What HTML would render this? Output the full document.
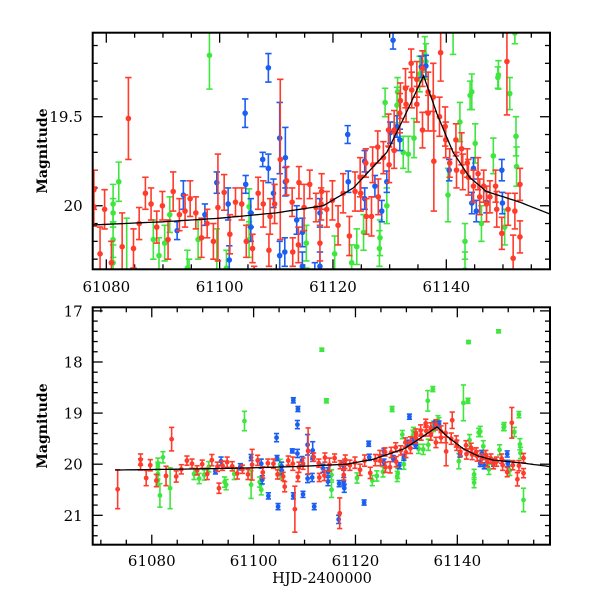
<!DOCTYPE html>
<html><head><meta charset="utf-8"><style>
html,body{margin:0;padding:0;background:#fff}
svg{display:block}
text{font-family:"DejaVu Serif","Liberation Serif",serif;fill:#000}
</style></head><body>
<svg id="chart" width="600" height="600" viewBox="0 0 600 600">
<defs>
<clipPath id="clipTop"><rect x="92.7" y="32.7" width="457.3" height="236.6"/></clipPath>
<clipPath id="clipBot"><rect x="92.7" y="307.3" width="457.3" height="237.4"/></clipPath>
</defs>
</svg>
<script>
const redPts=[[61073.3,20.49,.38],[61077.8,19.91,.11],[61077.8,20.005,.11],[61078.9,20.27,.15],[61079.7,20.02,.11],[61080.9,20.32,.12],[61082.8,20.23,.19],[61083.9,19.51,.23],[61084.8,20.24,.11],[61085.8,20.10,.09],[61086.9,19.93,.09],[61087.9,19.99,.09],[61088.9,20.12,.09],[61089.9,20.00,.08],[61090.9,20.19,.11],[61091.8,19.92,.11],[61092.9,20.05,.09],[61093.2,20.47,.1],[61093.9,20.03,.09],[61094.8,19.96,.10],[61095.8,20.04,.09],[61096.8,20.18,.11],[61097.8,20.10,.08],[61098.9,20.20,.10],[61099.7,20.01,.30],[61100.8,19.925,.10],[61101.8,20.16,.11],[61102.8,19.98,.08],[61103.9,19.99,.09],[61104.7,20.20,.09],[61105.8,20.24,.08],[61106.1,20.44,.1],[61106.8,19.93,.09],[61107.7,19.99,.13],[61108.1,20.88,.45],[61108.7,20.25,.09],[61108.9,20.06,.1],[61109.7,19.99,.11],[61110.7,19.74,.45],[61111.8,19.86,.08],[61112.8,19.98,.08],[61112.9,20.26,.08],[61113.9,20.22,.1],[61114.0,19.87,.09],[61114.9,20.01,.13],[61115.9,19.88,.08],[61116.9,20.96,.3],[61117.0,20.01,.08],[61117.7,20.21,.1],[61117.9,19.99,.09],[61118.0,19.92,.1],[61118.9,20.02,.1],[61119.9,19.97,.11],[61120.9,20.11,.11],[61121.8,19.93,.11],[61122.9,20.17,.11],[61123.9,19.92,.11],[61124.8,19.84,.11],[61124.9,19.93,.1],[61125.8,19.76,.08],[61125.9,20.06,.1],[61126.8,20.06,.11],[61127.0,19.77,.1],[61127.9,19.67,.09],[61128.0,19.95,.1],[61128.9,19.73,.09],[61129.8,19.575,.09],[61129.9,19.77,.1],[61130.8,19.575,.11],[61130.8,19.69,.1],[61131.8,19.48,.11],[61131.9,19.41,.1],[61132.8,19.34,.11],[61132.9,19.43,.1],[61133.8,19.20,.08],[61133.9,19.35,.1],[61134.8,19.43,.1],[61134.8,19.29,.1],[61135.8,19.23,.1],[61135.8,19.575,.1],[61136.8,19.36,.11],[61136.8,19.48,.1],[61137.7,19.39,.19],[61137.8,19.75,.28],[61138.8,19.50,.11],[61139.0,19.14,.16],[61139.8,19.555,.11],[61139.9,19.63,.1],[61140.6,19.76,.08],[61141.7,19.63,.09],[61141.8,19.80,.1],[61142.7,19.68,.09],[61142.9,19.81,.1],[61143.7,19.76,.08],[61143.9,19.84,.1],[61144.8,19.89,.09],[61145.6,19.82,.09],[61145.9,19.95,.1],[61146.6,19.89,.09],[61147.1,19.99,.1],[61147.7,19.95,.09],[61148.7,19.89,.09],[61148.9,20.02,.1],[61149.8,20.155,.09],[61150.7,19.19,.3],[61150.9,20.02,.09],[61151.8,20.295,.13],[61152.1,20.03,.1],[61153.0,19.88,.09],[61153.0,20.175,.09]];
const greenPts=[[61081.2,19.99,.11],[61081.2,20.04,.08],[61081.2,20.19,.1],[61081.2,20.32,.1],[61081.6,20.61,.23],[61082.2,19.865,.11],[61083.6,20.47,.4],[61088.3,20.19,.11],[61089.3,20.28,.1],[61090.3,20.21,.1],[61091.2,20.05,.1],[61094.3,20.35,.1],[61094.6,20.40,.1],[61096.2,20.19,.11],[61098.2,19.155,.19],[61099.5,20.40,.27],[61101.2,20.35,.1],[61101.5,20.50,.1],[61105.2,20.19,.1],[61105.2,20.005,.1],[61113.4,17.76,.03],[61114.3,18.76,.04],[61115.3,20.21,.1],[61115.3,20.50,.15],[61120.3,20.27,.1],[61123.3,20.32,.1],[61124.2,20.23,.1],[61125.4,20.15,.1],[61127.2,18.92,.05],[61128.2,20.24,.1],[61128.3,20.18,.1],[61129.2,19.42,.08],[61129.5,20.0,.1],[61131.3,19.435,.1],[61131.4,19.36,.08],[61132.4,19.70,.09],[61133.3,19.71,.1],[61134.2,18.76,.2],[61134.3,19.62,.11],[61135.2,18.53,.05],[61135.3,19.26,.1],[61136.2,19.15,.1],[61136.4,19.19,.1],[61140.3,19.94,.15],[61141.2,18.80,.35],[61142.1,18.76,.05],[61142.2,17.61,.03],[61142.4,19.53,.11],[61143.3,20.20,.1],[61143.3,20.36,.1],[61144.2,19.38,.08],[61144.5,19.36,.1],[61145.1,19.65,.11],[61146.2,20.10,.1],[61148.1,17.40,.03],[61148.3,19.72,.1],[61149.1,19.28,.06],[61149.2,19.265,.08],[61150.3,20.12,.1],[61151.2,19.37,.09],[61152.1,19.03,.06],[61152.3,19.61,.11],[61152.4,19.78,.11],[61153.0,20.70,.23]];
const bluePts=[[61092.5,20.14,.05],[61093.6,19.94,.08],[61097.4,20.05,.06],[61099.5,19.87,.06],[61101.5,19.99,.09],[61101.7,20.305,.08],[61102.9,20.62,.06],[61104.5,19.48,.08],[61104.6,19.88,.05],[61104.8,20.83,.06],[61105.5,20.04,.08],[61105.5,20.12,.08],[61107.6,19.74,.04],[61107.8,18.75,.05],[61107.8,20.62,.06],[61108.6,19.225,.08],[61108.6,19.79,.08],[61108.7,18.92,.05],[61109.5,19.93,.08],[61109.7,20.59,.06],[61110.6,19.62,.2],[61110.6,20.28,.08],[61111.5,20.26,.08],[61111.6,19.73,.17],[61111.6,19.865,.08],[61111.9,20.83,.06],[61113.6,20.08,.08],[61114.6,20.15,.08],[61114.6,20.34,.08],[61116.7,21.08,.08],[61116.8,20.38,.06],[61117.7,20.04,.08],[61117.7,20.34,.08],[61117.8,20.47,.08],[61121.7,20.75,.05],[61122.6,19.60,.05],[61122.7,19.865,.06],[61125.6,19.75,.06],[61125.6,19.96,.06],[61127.4,19.89,.06],[61128.6,20.03,.06],[61129.5,19.865,.06],[61130.1,19.59,.06],[61130.6,19.07,.05],[61131.3,19.555,.06],[61131.8,19.63,.06],[61135.6,19.22,.06],[61136.4,19.215,.06],[61140.5,19.80,.06],[61144.5,19.985,.06],[61144.8,19.79,.06],[61145.3,20.03,.06],[61147.1,19.98,.06],[61149.8,19.80,.06],[61149.9,19.985,.06]];
const modelDays=[61068,61077.6,61090,61100,61110,61118.3,61123.6,61129.5,61132.3,61136,61138.3,61141.2,61144.1,61147.1,61153,61158.3];
const modelMags=[20.12,20.108,20.09,20.07,20.04,20.0,19.90,19.70,19.52,19.27,19.48,19.70,19.84,19.92,19.98,20.047];
const topYTicks=["19.5","20"];
const botYTicks=["17","18","19","20","21"];
const xTickLabels=["61080","61100","61120","61140"];

const NS="http://www.w3.org/2000/svg";
const svg=document.getElementById('chart');
function mk(tag,attrs,parent){const e=document.createElementNS(NS,tag);for(const k in attrs)e.setAttribute(k,attrs[k]);(parent||svg).appendChild(e);return e;}

const panels=[
 {name:'top',x0:92.7,x1:550,y0:32.7,y1:269.3,d0:61077.6,d1:61158.3,m0:19.028,m1:20.357,yMaj:0.5,yMin:0.1,yLabels:topYTicks,clip:'clipTop',r:2.8,cap:3.2,modelStart:61077.6,labY:292,ylabY:151},
 {name:'bottom',x0:92.7,x1:550,y0:307.3,y1:544.7,d0:61068.4,d1:61158.2,m0:16.93,m1:21.575,yMaj:1,yMin:0.2,yLabels:botYTicks,clip:'clipBot',r:2.4,cap:2.6,modelStart:61072.4,labY:566,ylabY:426}
];
const colors={green:'#3ee63e',blue:'#1a5ff2',red:'#ff3b2b'};

panels.forEach(p=>{
 const X=d=>p.x0+(d-p.d0)/(p.d1-p.d0)*(p.x1-p.x0);
 const Y=m=>p.y0+(m-p.m0)/(p.m1-p.m0)*(p.y1-p.y0);
 const g=mk('g',{});
 
 
 const tg=mk('g',{stroke:'#000','stroke-width':1.3},g);
 
 
 for(let d=Math.ceil(p.d0/5)*5;d<=p.d1;d+=5){
  const x=X(d),L=(d%20===0)?10:5;
  mk('line',{x1:x,y1:p.y1,x2:x,y2:p.y1-L},tg);
  mk('line',{x1:x,y1:p.y0,x2:x,y2:p.y0+L},tg);
 }
 const nMin=Math.round(p.yMaj/p.yMin);
 for(let k=Math.ceil(p.m0/p.yMin-1e-6);k*p.yMin<=p.m1+1e-9;k++){
  const m=k*p.yMin,y=Y(m),L=(k%nMin===0)?10:5;
  mk('line',{x1:p.x0,y1:y,x2:p.x0+L,y2:y},tg);
  mk('line',{x1:p.x1,y1:y,x2:p.x1-L,y2:y},tg);
 }
 p.yLabels.forEach(s=>{
  const t=mk('text',{x:p.x0-10,y:Y(parseFloat(s))+5.5,'text-anchor':'end','font-size':15},g);
  t.textContent=s;
  
  
 });
 xTickLabels.forEach(s=>{
  const t=mk('text',{x:X(parseFloat(s)),y:p.labY,'text-anchor':'middle','font-size':15},g);
  t.textContent=s;
  
  
 });
 const yl=mk('text',{x:0,y:0,transform:`translate(47,${p.ylabY}) rotate(-90)`,'text-anchor':'middle','font-size':14,'font-weight':'bold'},g);
 yl.textContent='Magnitude';
 
 
 const dg=mk('g',{'clip-path':`url(#${p.clip})`},g);
 
 
 [['green',greenPts],['blue',bluePts],['red',redPts]].forEach(([c,pts])=>{
  const sg=mk('g',{stroke:colors[c],fill:colors[c],'stroke-width':1.6},dg);
  
  
  pts.forEach(([d,m,e])=>{
   const x=X(d),ya=Y(m-e),yb=Y(m+e),y=Y(m);
   mk('line',{x1:x,y1:ya,x2:x,y2:yb},sg);
   mk('line',{x1:x-p.cap,y1:ya,x2:x+p.cap,y2:ya},sg);
   mk('line',{x1:x-p.cap,y1:yb,x2:x+p.cap,y2:yb},sg);
   const pt=mk('circle',{cx:x,cy:y,r:p.r,stroke:'none'},sg);
   
   
  });
 });
 let dstr='';
 for(let i=0;i<modelDays.length-1;i++){
  const a=modelDays[i],b=modelDays[i+1];
  for(let s=0;s<=10;s++){
   const d=a+(b-a)*s/10;if(d<p.modelStart)continue;
   const m=modelMags[i]+(modelMags[i+1]-modelMags[i])*s/10;
   dstr+=(dstr?'L':'M')+X(d).toFixed(1)+','+Y(m).toFixed(1);
  }
 }
 const ml=mk('path',{d:dstr,fill:'none',stroke:'#000','stroke-width':1.3},dg);
 
 
 const fr=mk('rect',{x:p.x0,y:p.y0,width:p.x1-p.x0,height:p.y1-p.y0,fill:'none',stroke:'#000','stroke-width':2},g);
 
 
});
const xl=mk('text',{x:322,y:583,'text-anchor':'middle','font-size':14.5});
xl.textContent='HJD-2400000';


</script>
</body></html>
